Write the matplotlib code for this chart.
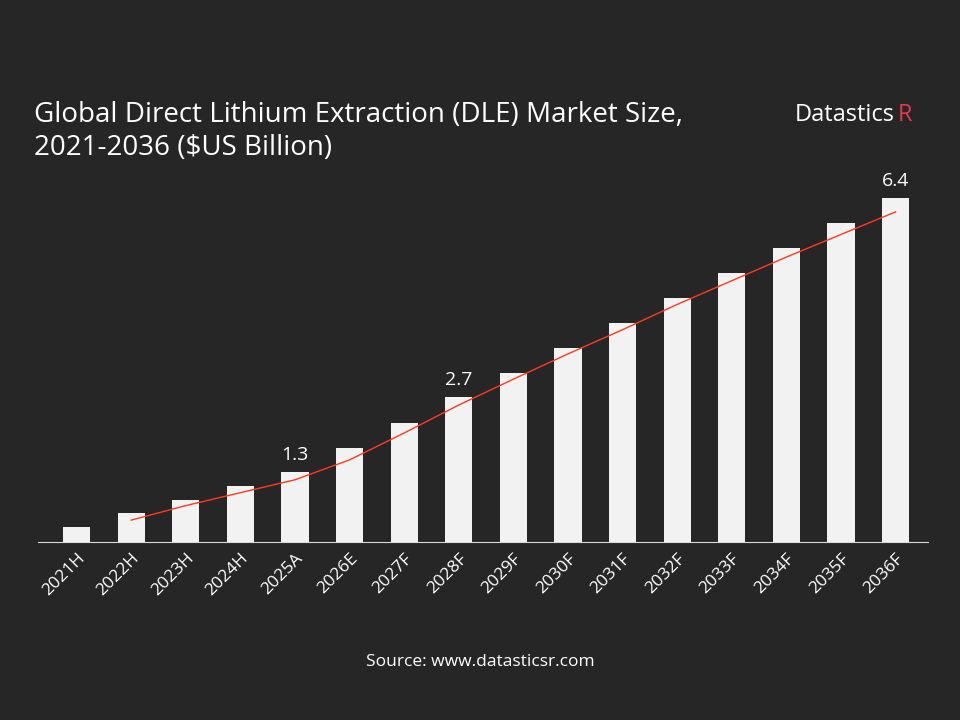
"""Market size bar chart with trend line."""

import matplotlib
matplotlib.use('Agg')
import matplotlib.pyplot as plt
import numpy as np

years = ['2021H', '2022H', '2023H', '2024H', '2025A', '2026E', '2027F', '2028F',
         '2029F', '2030F', '2031F', '2032F', '2033F', '2034F', '2035F', '2036F']
market_size = [0.28, 0.54, 0.78, 1.04, 1.3, 1.75, 2.21, 2.7,
               3.14, 3.61, 4.07, 4.54, 5.0, 5.47, 5.93, 6.4]
trend = [0.41, 0.68, 0.92, 1.16, 1.53, 2.03, 2.55, 3.03,
         3.5, 3.95, 4.42, 4.86, 5.3, 5.72, 6.14]
labelled = {4: '1.3', 7: '2.7', 15: '6.4'}

plt.rcParams['font.family'] = ['Open Sans', 'DejaVu Sans']
bg = '#262626'

fig = plt.figure(figsize=(9.6, 7.2), dpi=100, facecolor=bg)
ax = fig.add_axes([0.04, 0.247, 0.927, 0.52], facecolor=bg)

x = np.arange(len(years))
ax.bar(x, market_size, width=0.5, color='#f2f2f2', zorder=2)
ax.plot(x[1:], trend, color='#ff3b1f', linewidth=1, zorder=3)
for i, txt in labelled.items():
    ax.text(x[i], market_size[i] + 0.15, txt, ha='center', va='bottom',
            color='white', fontsize=14)

ax.set_xlim(-0.7, len(years) - 0.4)
ax.set_ylim(0, 6.96)
ax.set_yticks([])
ax.set_xticks(x)
ax.set_xticklabels(years, rotation=45, ha='right', rotation_mode='anchor',
                   color='white', fontsize=12.5)
ax.tick_params(axis='x', length=0, pad=6)
for side in ['top', 'right', 'left']:
    ax.spines[side].set_visible(False)
ax.spines['bottom'].set_color('#d9d9d9')

fig.text(0.035, 0.775, 'Global Direct Lithium Extraction (DLE) Market Size,\n2021-2036 ($US Billion)',
         color='white', fontsize=20, ha='left', va='bottom', linespacing=1.25)
fig.text(0.828, 0.84, 'Datastics', color='white', fontsize=17, ha='left', va='center')
fig.text(0.935, 0.84, 'R', color='#e8384f', fontsize=17, ha='left', va='center')
fig.text(0.5, 0.075, 'Source: www.datasticsr.com', color='white', fontsize=12.5, ha='center')

plt.savefig('out.png', dpi=100, facecolor=bg)
plt.close(fig)
